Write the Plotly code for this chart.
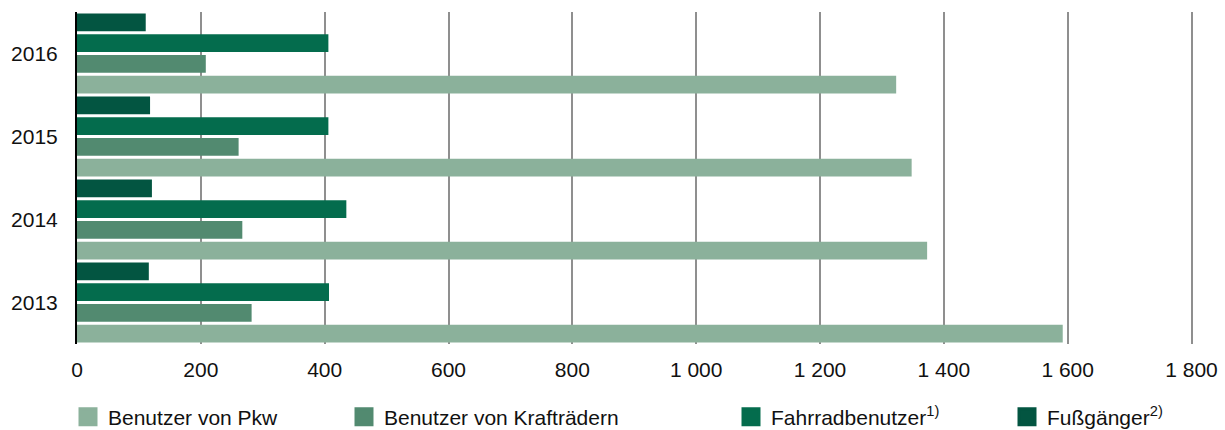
import plotly.graph_objects as go

# ─────────────────────────────────────────────
# Data
# ─────────────────────────────────────────────

years = ["2013", "2014", "2015", "2016"]

pkw = [1592, 1373, 1348, 1323]
kraftraeder = [282, 267, 261, 208]
fahrrad = [407, 435, 406, 406]
fussgaenger = [116, 121, 118, 111]

series_names = [
    "Benutzer von Pkw",
    "Benutzer von Krafträdern",
    "Fahrradbenutzer<sup>1)</sup>",
    "Fußgänger<sup>2)</sup>",
]
series_values = [pkw, kraftraeder, fahrrad, fussgaenger]

x_ticks = [0, 200, 400, 600, 800, 1000, 1200, 1400, 1600, 1800]

# ─────────────────────────────────────────────
# Style
# ─────────────────────────────────────────────

COLORS = ["#8bb19b", "#528a70", "#046c4d", "#035541"]
LEGEND_X = [84, 360, 747, 1023]   # legend anchor positions, px
FONT = "Arial, 'Liberation Sans', sans-serif"
W, H = 1225, 430

fig = go.Figure()

for name, vals, color in zip(series_names, series_values, COLORS):
    fig.add_trace(go.Bar(
        x=vals,
        y=years,
        orientation="h",
        name=name,
        marker=dict(color=color, line=dict(width=0)),
        showlegend=False,
    ))

# legend entries (one legend each so the spacing can follow the original)
legend_layouts = {}
for i, (name, color, lx) in enumerate(zip(series_names, COLORS, LEGEND_X)):
    key = "legend" if i == 0 else f"legend{i + 1}"
    fig.add_trace(go.Scatter(
        x=[None], y=[None],
        mode="markers",
        name=name,
        marker=dict(symbol="square", size=16, color=color, line=dict(color=color, width=3)),
        legend=key,
        showlegend=True,
        hoverinfo="skip",
    ))
    legend_layouts[key] = dict(
        x=(lx - 16) / W, xref="container", xanchor="left",
        y=1 - 417 / H, yref="container", yanchor="middle",
        font=dict(family=FONT, size=21, color="#111111"),
        bgcolor="rgba(0,0,0,0)",
        borderwidth=0,
    )

fig.update_layout(
    width=W,
    height=H,
    font=dict(family=FONT, size=21, color="#111111"),
    paper_bgcolor="#ffffff",
    plot_bgcolor="#ffffff",
    margin=dict(l=77, r=31, t=12, b=86, autoexpand=False),
    barmode="group",
    bargap=0,
    bargroupgap=0.145,
    separators=", ",
    showlegend=True,
    **legend_layouts,
    xaxis=dict(
        range=[0, 1804],  # a hair past 1 800 so its gridline is drawn
        tickvals=x_ticks,
        tickformat=",d",
        showgrid=True,
        gridcolor="#8f8f8f",
        gridwidth=2,
        zeroline=False,
        showline=False,
        ticks="",
        ticklabelstandoff=11,
        tickfont=dict(size=21, color="#111111"),
        automargin=False,
    ),
    yaxis=dict(
        type="category",
        categoryorder="array",
        categoryarray=years,
        showgrid=False,
        zeroline=False,
        showline=True,
        linecolor="#000000",
        linewidth=2,
        ticks="",
        ticklabelstandoff=13,
        tickfont=dict(size=21, color="#111111"),
        automargin=False,
    ),
)

fig.write_html(
    "out.html",
    config={"displayModeBar": False},
    post_script="document.body.style.margin = '0';",
)
